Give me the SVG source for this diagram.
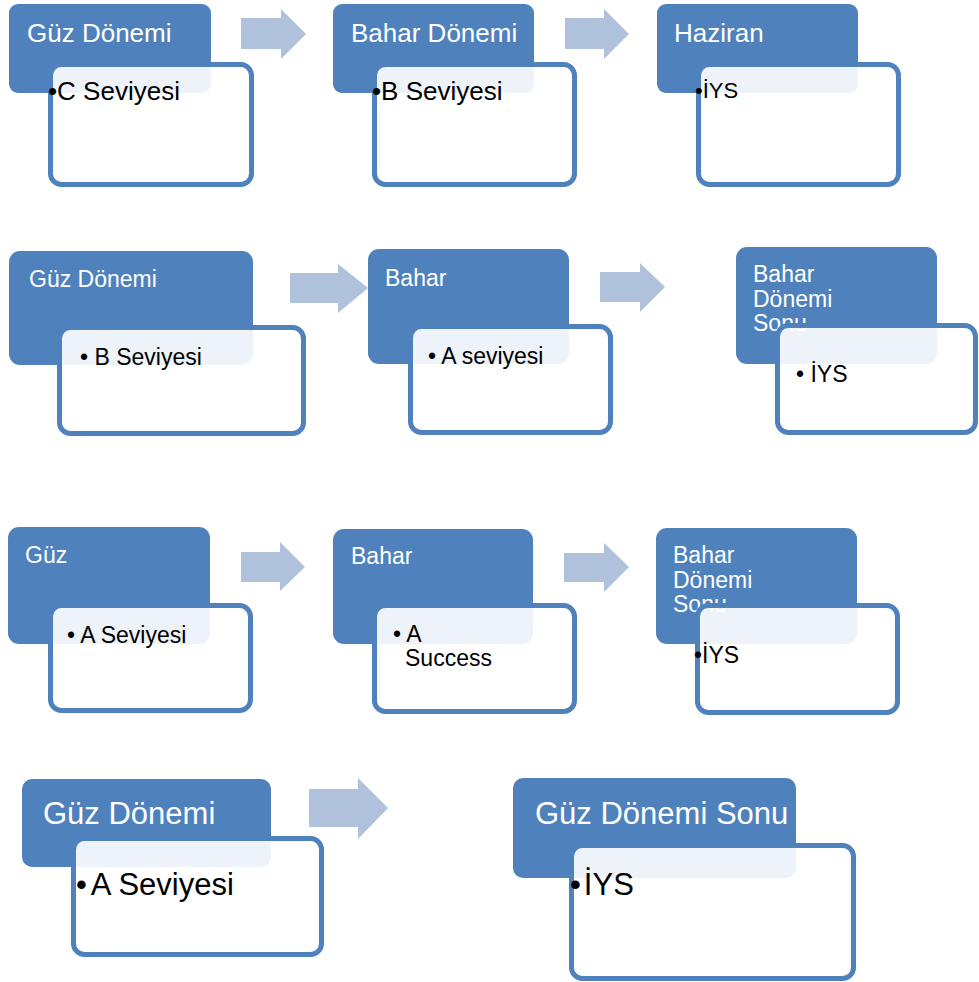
<svg xmlns="http://www.w3.org/2000/svg" width="979" height="982" viewBox="0 0 979 982">
<style>
.hdr{fill:#4F81BD}
.box{fill:#FFFFFF;fill-opacity:0.9;stroke:#4F81BD;stroke-width:5}
.arr{fill:#B0C1DC}
.ht{fill:#FFFFFF;font-family:"Liberation Sans",Arial,sans-serif}
.bt{fill:#000000;font-family:"Liberation Sans",Arial,sans-serif}
</style>
<rect width="979" height="982" fill="#FFFFFF"/>
<g id="connectors">
<polygon class="arr" points="241,18 281,18 281,9 306,34 281,59 281,49 241,49"/>
<polygon class="arr" points="565,18 604,18 604,9 629,34 604,59 604,49 565,49"/>
<polygon class="arr" points="290,273 338,273 338,264 368,288 338,313 338,303 290,303"/>
<polygon class="arr" points="600,272 640,272 640,263 665,287 640,312 640,302 600,302"/>
<polygon class="arr" points="241,552 280,552 280,542 305,567 280,591 280,582 241,582"/>
<polygon class="arr" points="564,553 604,553 604,543 629,567 604,592 604,582 564,582"/>
<polygon class="arr" points="309,789 358,789 358,778 388,808 358,839 358,827 309,827"/>
</g>
<g id="n1">
<rect class="hdr" x="9" y="4" width="202" height="89" rx="9"/>
<text class="ht" x="27" y="42" font-size="26">Güz Dönemi</text>
<rect class="box" x="50.5" y="64.5" width="201" height="120" rx="11"/>
<text class="bt" x="48" y="100" font-size="26">•C Seviyesi</text>
</g>
<g id="n2">
<rect class="hdr" x="333" y="4" width="201" height="89" rx="9"/>
<text class="ht" x="351" y="42" font-size="26">Bahar Dönemi</text>
<rect class="box" x="374.5" y="64.5" width="200" height="120" rx="11"/>
<text class="bt" x="372" y="100" font-size="26">•B Seviyesi</text>
</g>
<g id="n3">
<rect class="hdr" x="657" y="4" width="201" height="89" rx="9"/>
<text class="ht" x="674" y="42" font-size="26">Haziran</text>
<rect class="box" x="698.5" y="64.5" width="200" height="120" rx="11"/>
<text class="bt" x="695" y="98" font-size="22">•İYS</text>
</g>
<g id="n4">
<rect class="hdr" x="9" y="251" width="244" height="114" rx="11"/>
<text class="ht" x="29" y="287" font-size="23">Güz Dönemi</text>
<rect class="box" x="59.5" y="327.5" width="244" height="106" rx="11"/>
<text class="bt" x="80" y="365" font-size="23">• B Seviyesi</text>
</g>
<g id="n5">
<rect class="hdr" x="368" y="249" width="201" height="115" rx="11"/>
<text class="ht" x="385" y="286" font-size="23">Bahar</text>
<rect class="box" x="410.5" y="326.5" width="200" height="106" rx="11"/>
<text class="bt" x="428" y="364" font-size="23">• A seviyesi</text>
</g>
<g id="n6">
<rect class="hdr" x="736" y="247" width="201" height="117" rx="11"/>
<text class="ht" x="753" y="282" font-size="23">Bahar</text>
<text class="ht" x="753" y="307" font-size="23">Dönemi</text>
<text class="ht" x="753" y="331" font-size="23">Sonu</text>
<rect class="box" x="777.5" y="325.5" width="198" height="107" rx="11"/>
<text class="bt" x="796" y="382" font-size="23">• İYS</text>
</g>
<g id="n7">
<rect class="hdr" x="8" y="527" width="202" height="117" rx="11"/>
<text class="ht" x="25" y="563" font-size="23">Güz</text>
<rect class="box" x="50.5" y="605.5" width="200" height="105" rx="11"/>
<text class="bt" x="67" y="643" font-size="23">• A Seviyesi</text>
</g>
<g id="n8">
<rect class="hdr" x="333" y="529" width="200" height="115" rx="11"/>
<text class="ht" x="351" y="564" font-size="23">Bahar</text>
<rect class="box" x="374.5" y="605.5" width="200" height="106" rx="11"/>
<text class="bt" x="393" y="642" font-size="23">• A</text>
<text class="bt" x="405" y="666" font-size="23">Success</text>
</g>
<g id="n9">
<rect class="hdr" x="656" y="528" width="201" height="116" rx="11"/>
<text class="ht" x="673" y="563" font-size="23">Bahar</text>
<text class="ht" x="673" y="588" font-size="23">Dönemi</text>
<text class="ht" x="673" y="612" font-size="23">Sonu</text>
<rect class="box" x="697.5" y="605.5" width="200" height="107" rx="11"/>
<text class="bt" x="694" y="663" font-size="23">•İYS</text>
</g>
<g id="n10">
<rect class="hdr" x="22" y="779" width="249" height="88" rx="10"/>
<text class="ht" x="43" y="824" font-size="31">Güz Dönemi</text>
<rect class="box" x="73.5" y="838.5" width="248" height="116" rx="11"/>
<text class="bt" x="76" y="895" font-size="31">•<tspan dx="4">A Seviyesi</tspan></text>
</g>
<g id="n11">
<rect class="hdr" x="513" y="778" width="283" height="100" rx="10"/>
<text class="ht" x="535" y="824" font-size="31">Güz Dönemi Sonu</text>
<rect class="box" x="571.5" y="845.5" width="282" height="133" rx="11"/>
<text class="bt" x="570" y="895" font-size="31">•<tspan dx="3">İYS</tspan></text>
</g>
</svg>
